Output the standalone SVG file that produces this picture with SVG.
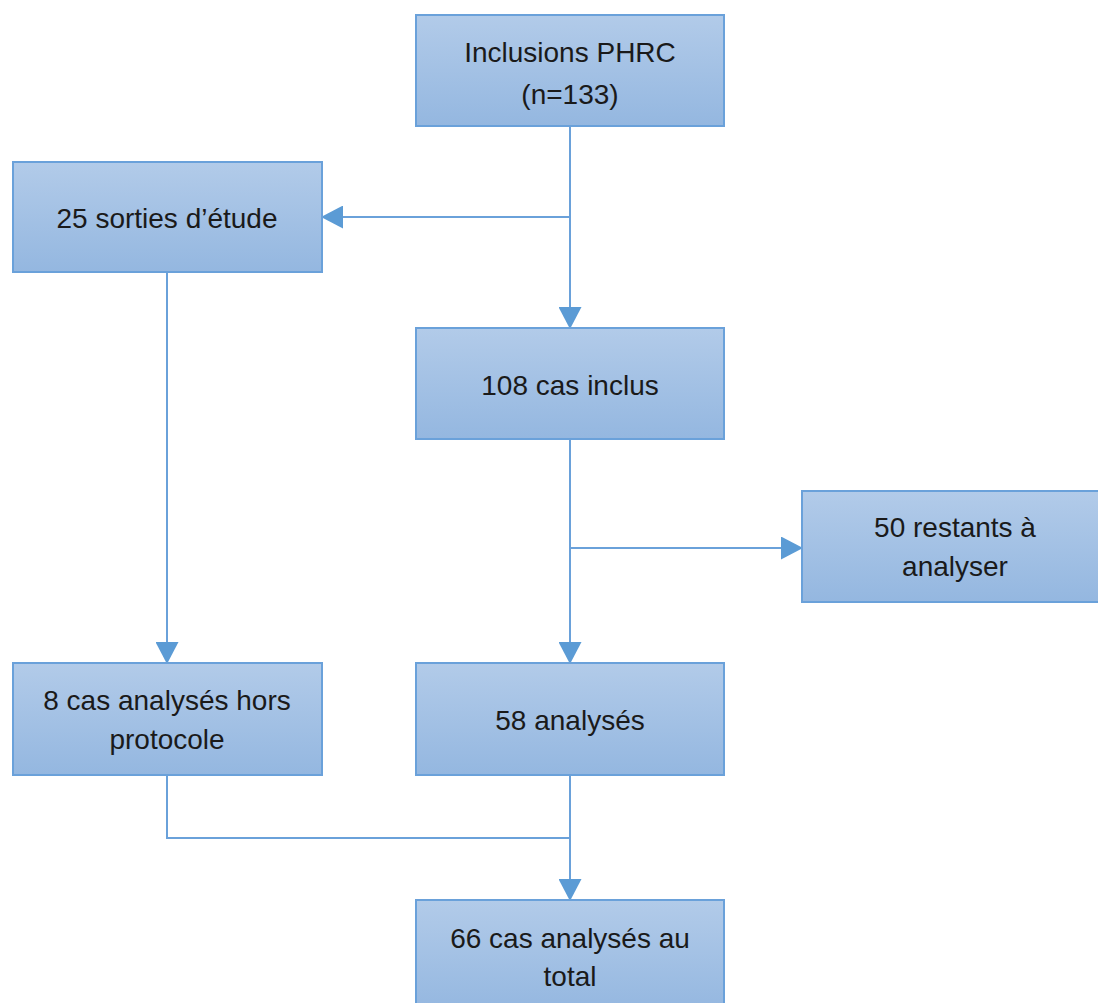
<svg xmlns="http://www.w3.org/2000/svg" width="1098" height="1003" viewBox="0 0 1098 1003">
<defs>
<linearGradient id="fill" x1="0" y1="0" x2="0" y2="1">
<stop offset="0" stop-color="#b2cbe9"/>
<stop offset="1" stop-color="#94b7e0"/>
</linearGradient>
<marker id="arr" viewBox="0 0 22 23" refX="21" refY="11.5" markerWidth="22" markerHeight="23" markerUnits="userSpaceOnUse" orient="auto">
<path d="M0,0 L22,11.5 L0,23 z" fill="#5b9bd5"/>
</marker>
<style>
.box{fill:url(#fill);stroke:#6aa1da;stroke-width:2}
.t{font-family:"Liberation Sans",Arial,sans-serif;font-size:28px;fill:#1a1a1a;text-anchor:middle}
.c{fill:none;stroke:#6aa1da;stroke-width:2}
.a{marker-end:url(#arr)}
</style>
</defs>
<rect width="1098" height="1003" fill="#ffffff"/>
<g id="connectors">
<path class="c a" d="M570,126 V328"/>
<path class="c a" d="M570,217 H322"/>
<path class="c a" d="M167,272 V663"/>
<path class="c a" d="M570,439 V663"/>
<path class="c a" d="M570,548 H802"/>
<path class="c" d="M167,775 V838 H570"/>
<path class="c a" d="M570,775 V900"/>
</g>
<g id="n1"><rect class="box" x="416" y="15" width="308" height="111"/><text class="t" x="570" y="62">Inclusions PHRC</text><text class="t" x="570" y="104">(n=133)</text></g>
<g id="n2"><rect class="box" x="13" y="162" width="309" height="110"/><text class="t" x="167" y="228">25 sorties d’étude</text></g>
<g id="n3"><rect class="box" x="416" y="328" width="308" height="111"/><text class="t" x="570" y="395">108 cas inclus</text></g>
<g id="n4"><rect class="box" x="802" y="491" width="308" height="111"/><text class="t" x="955" y="537">50 restants à</text><text class="t" x="955" y="576">analyser</text></g>
<g id="n5"><rect class="box" x="13" y="663" width="309" height="112"/><text class="t" x="167" y="710">8 cas analysés hors</text><text class="t" x="167" y="749">protocole</text></g>
<g id="n6"><rect class="box" x="416" y="663" width="308" height="112"/><text class="t" x="570" y="730">58 analysés</text></g>
<g id="n7"><rect class="box" x="416" y="900" width="308" height="112"/><text class="t" x="570" y="948">66 cas analysés au</text><text class="t" x="570" y="986">total</text></g>
</svg>
